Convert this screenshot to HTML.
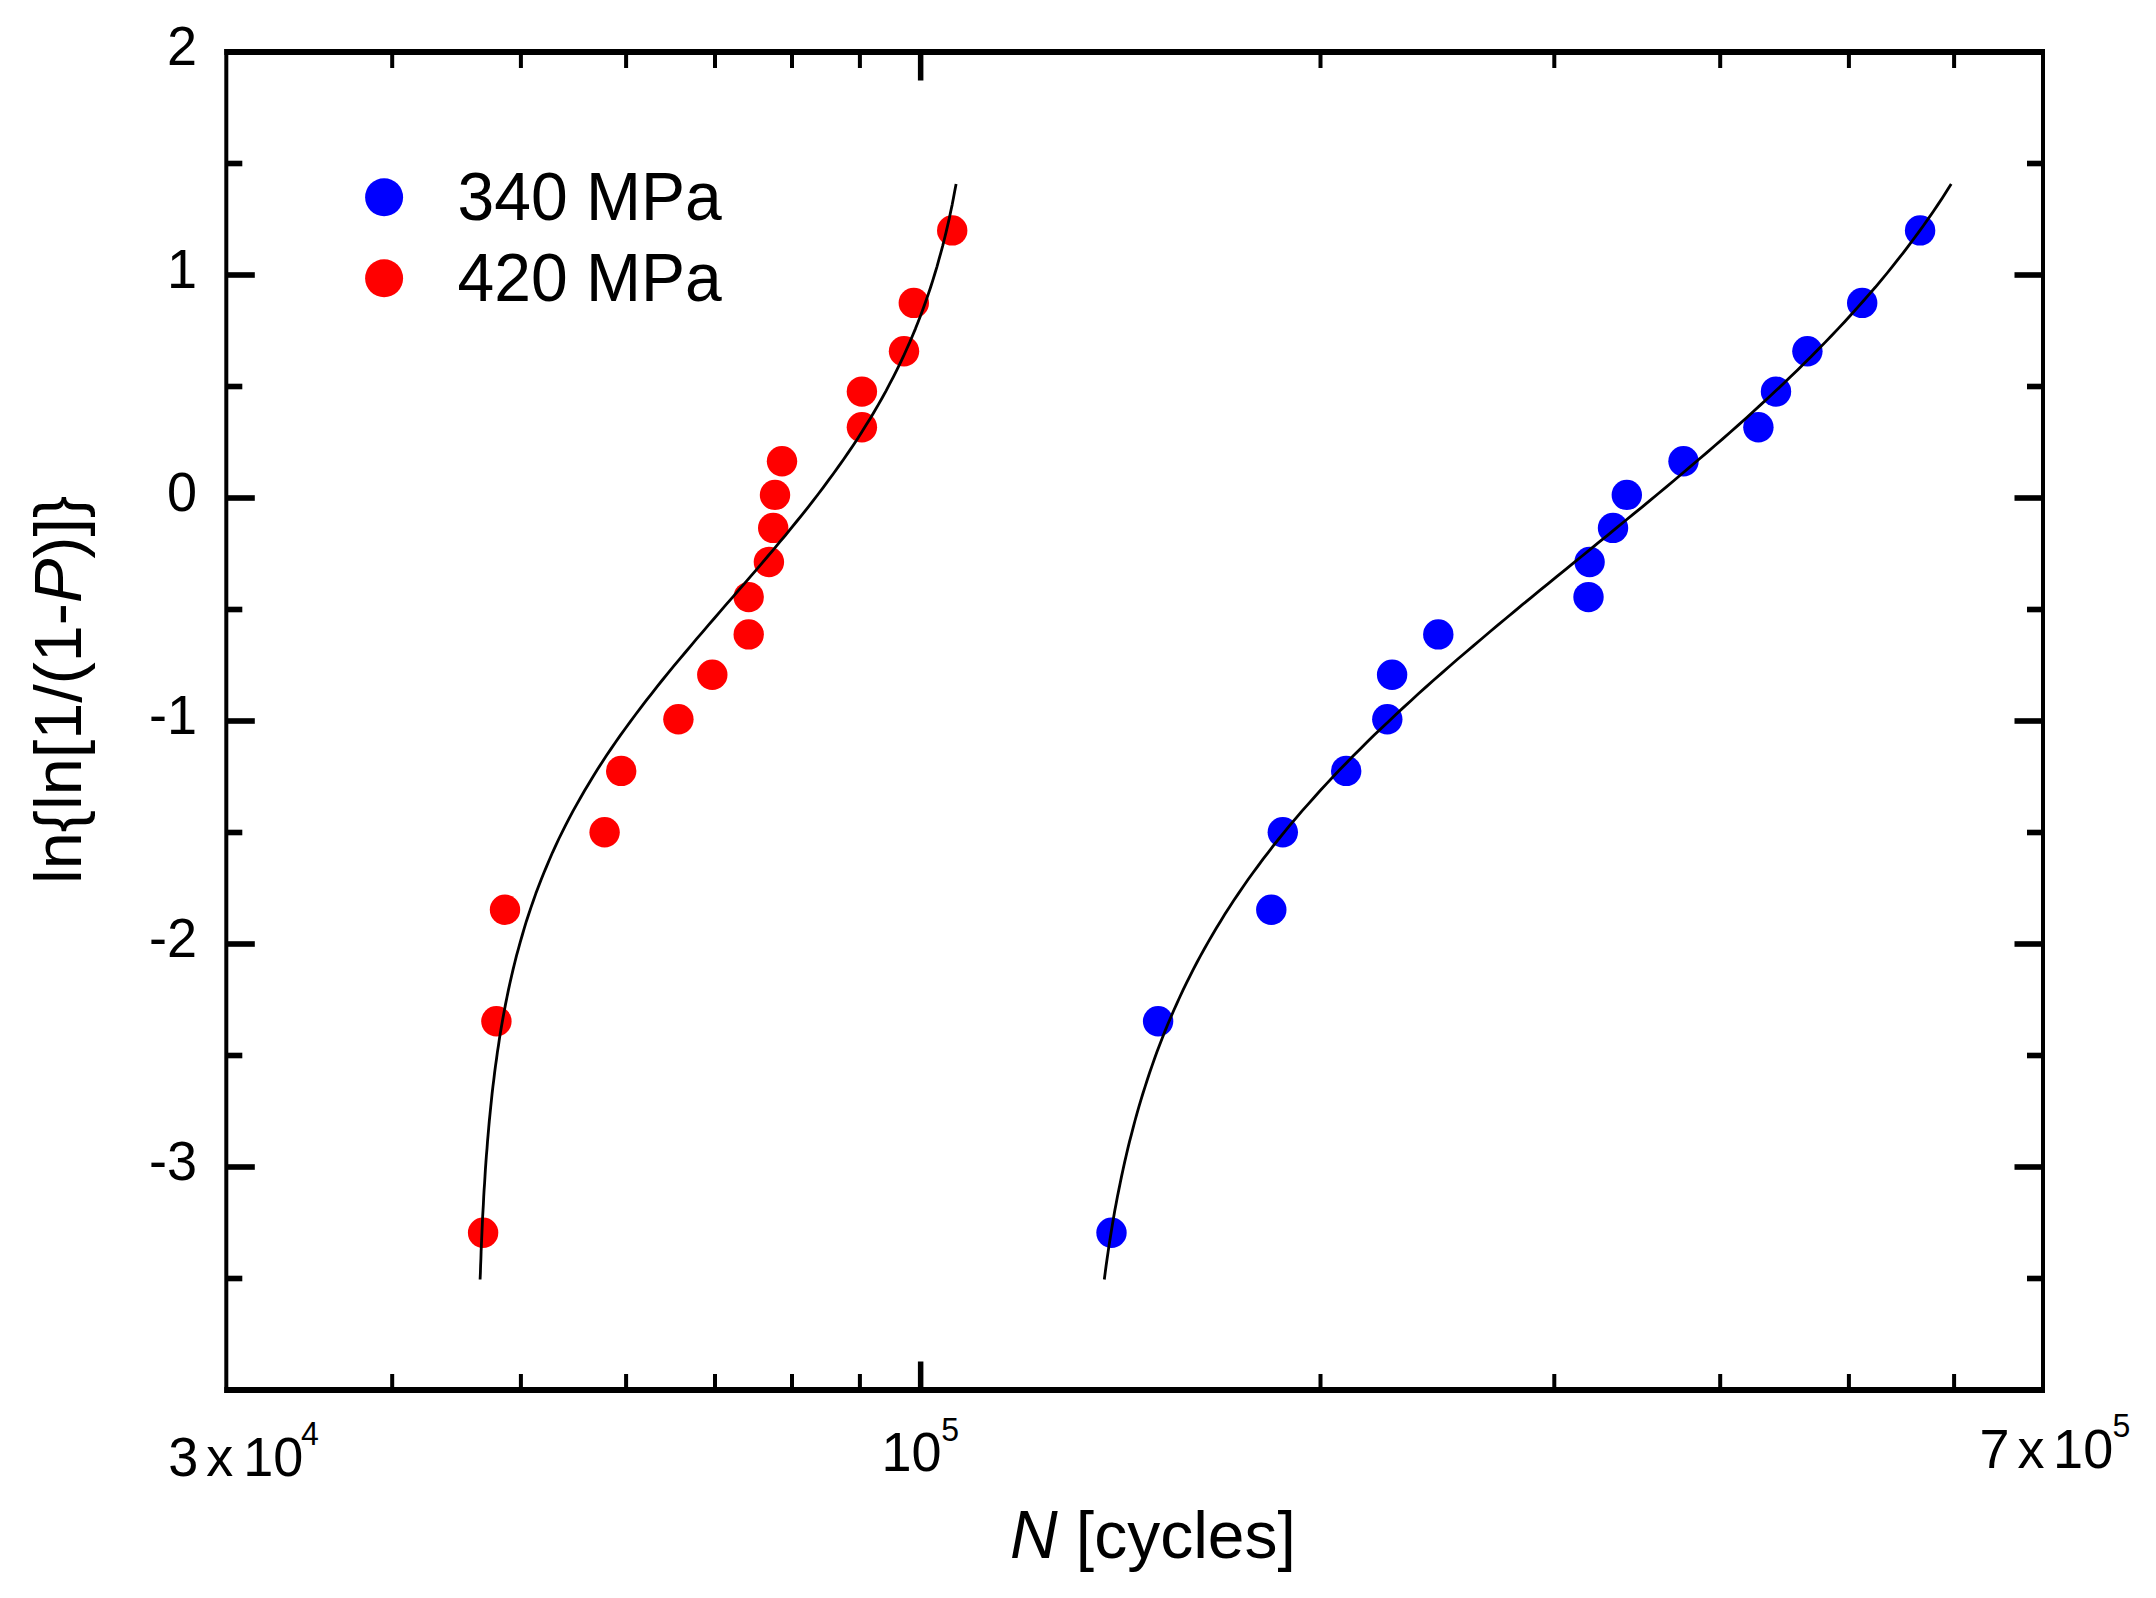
<!DOCTYPE html>
<html><head><meta charset="utf-8"><title>Weibull plot</title>
<style>html,body{margin:0;padding:0;background:#fff;}body{width:2156px;height:1598px;overflow:hidden;}</style>
</head><body>
<svg width="2156" height="1598" viewBox="0 0 2156 1598" style="display:block">
<rect x="0" y="0" width="2156" height="1598" fill="#fff"/>
<g fill="#ff0000"><circle cx="483.1" cy="1232.8" r="15.2"/><circle cx="496.4" cy="1021.3" r="15.2"/><circle cx="505.0" cy="909.7" r="15.2"/><circle cx="604.6" cy="832.3" r="15.2"/><circle cx="621.2" cy="770.9" r="15.2"/><circle cx="678.4" cy="719.2" r="15.2"/><circle cx="712.3" cy="674.7" r="15.2"/><circle cx="748.7" cy="634.4" r="15.2"/><circle cx="748.7" cy="597.1" r="15.2"/><circle cx="768.9" cy="562.0" r="15.2"/><circle cx="773.2" cy="527.9" r="15.2"/><circle cx="775.0" cy="494.9" r="15.2"/><circle cx="782.0" cy="461.3" r="15.2"/><circle cx="861.9" cy="427.3" r="15.2"/><circle cx="861.9" cy="391.6" r="15.2"/><circle cx="904.0" cy="351.3" r="15.2"/><circle cx="913.8" cy="302.9" r="15.2"/><circle cx="952.2" cy="230.4" r="15.2"/></g>
<g fill="#0000ff"><circle cx="1111.5" cy="1232.8" r="15.2"/><circle cx="1158.1" cy="1021.3" r="15.2"/><circle cx="1271.3" cy="909.7" r="15.2"/><circle cx="1282.8" cy="832.3" r="15.2"/><circle cx="1346.2" cy="770.9" r="15.2"/><circle cx="1387.3" cy="719.2" r="15.2"/><circle cx="1392.1" cy="674.7" r="15.2"/><circle cx="1438.3" cy="634.4" r="15.2"/><circle cx="1588.5" cy="597.1" r="15.2"/><circle cx="1589.6" cy="562.0" r="15.2"/><circle cx="1613.0" cy="527.9" r="15.2"/><circle cx="1626.8" cy="494.9" r="15.2"/><circle cx="1683.5" cy="461.3" r="15.2"/><circle cx="1758.4" cy="427.3" r="15.2"/><circle cx="1776.0" cy="391.6" r="15.2"/><circle cx="1807.4" cy="351.3" r="15.2"/><circle cx="1862.2" cy="302.9" r="15.2"/><circle cx="1920.1" cy="230.4" r="15.2"/></g>
<path d="M956.1,183.9 L954.8,190.8 L953.5,197.7 L952.2,204.6 L950.7,211.5 L949.3,218.4 L947.7,225.2 L946.1,232.1 L944.4,239.0 L942.7,245.9 L940.8,252.8 L938.9,259.7 L937.0,266.6 L934.9,273.5 L932.8,280.4 L930.6,287.3 L928.3,294.1 L925.9,301.0 L923.4,307.9 L920.9,314.8 L918.2,321.7 L915.5,328.6 L912.6,335.5 L909.7,342.4 L906.6,349.3 L903.5,356.2 L900.2,363.1 L896.9,369.9 L893.4,376.8 L889.8,383.7 L886.2,390.6 L882.4,397.5 L878.5,404.4 L874.5,411.3 L870.4,418.2 L866.1,425.1 L861.8,432.0 L857.4,438.9 L852.9,445.7 L848.2,452.6 L843.5,459.5 L838.6,466.4 L833.7,473.3 L828.6,480.2 L823.5,487.1 L818.3,494.0 L813.0,500.9 L807.6,507.8 L802.2,514.6 L796.6,521.5 L791.0,528.4 L785.4,535.3 L779.6,542.2 L773.9,549.1 L768.0,556.0 L762.2,562.9 L756.3,569.8 L750.4,576.7 L744.4,583.6 L738.5,590.4 L732.5,597.3 L726.5,604.2 L720.5,611.1 L714.6,618.0 L708.6,624.9 L702.7,631.8 L696.8,638.7 L691.0,645.6 L685.2,652.5 L679.4,659.3 L673.7,666.2 L668.0,673.1 L662.4,680.0 L656.9,686.9 L651.5,693.8 L646.1,700.7 L640.8,707.6 L635.6,714.5 L630.5,721.4 L625.5,728.3 L620.5,735.1 L615.7,742.0 L611.0,748.9 L606.3,755.8 L601.8,762.7 L597.4,769.6 L593.1,776.5 L588.9,783.4 L584.8,790.3 L580.8,797.2 L576.9,804.1 L573.1,810.9 L569.4,817.8 L565.9,824.7 L562.4,831.6 L559.0,838.5 L555.8,845.4 L552.6,852.3 L549.6,859.2 L546.7,866.1 L543.8,873.0 L541.1,879.8 L538.4,886.7 L535.8,893.6 L533.4,900.5 L531.0,907.4 L528.7,914.3 L526.4,921.2 L524.3,928.1 L522.3,935.0 L520.3,941.9 L518.4,948.8 L516.5,955.6 L514.8,962.5 L513.1,969.4 L511.5,976.3 L509.9,983.2 L508.4,990.1 L507.0,997.0 L505.6,1003.9 L504.3,1010.8 L503.0,1017.7 L501.8,1024.5 L500.6,1031.4 L499.5,1038.3 L498.5,1045.2 L497.4,1052.1 L496.5,1059.0 L495.5,1065.9 L494.6,1072.8 L493.8,1079.7 L492.9,1086.6 L492.1,1093.5 L491.4,1100.3 L490.7,1107.2 L490.0,1114.1 L489.3,1121.0 L488.7,1127.9 L488.1,1134.8 L487.5,1141.7 L487.0,1148.6 L486.4,1155.5 L485.9,1162.4 L485.4,1169.3 L485.0,1176.1 L484.6,1183.0 L484.1,1189.9 L483.7,1196.8 L483.4,1203.7 L483.0,1210.6 L482.6,1217.5 L482.3,1224.4 L482.0,1231.3 L481.7,1238.2 L481.4,1245.0 L481.1,1251.9 L480.9,1258.8 L480.6,1265.7 L480.4,1272.6 L480.1,1279.5" fill="none" stroke="#000" stroke-width="2.8" stroke-linecap="butt" stroke-linejoin="round"/>
<path d="M1951.2,183.9 L1946.9,190.8 L1942.5,197.7 L1937.9,204.6 L1933.3,211.5 L1928.5,218.4 L1923.7,225.2 L1918.7,232.1 L1913.6,239.0 L1908.5,245.9 L1903.2,252.8 L1897.8,259.7 L1892.3,266.6 L1886.8,273.5 L1881.1,280.4 L1875.3,287.3 L1869.3,294.1 L1863.3,301.0 L1857.2,307.9 L1851.0,314.8 L1844.7,321.7 L1838.2,328.6 L1831.7,335.5 L1825.1,342.4 L1818.3,349.3 L1811.5,356.2 L1804.6,363.1 L1797.6,369.9 L1790.5,376.8 L1783.3,383.7 L1776.0,390.6 L1768.6,397.5 L1761.1,404.4 L1753.6,411.3 L1746.0,418.2 L1738.3,425.1 L1730.5,432.0 L1722.7,438.9 L1714.7,445.7 L1706.8,452.6 L1698.7,459.5 L1690.6,466.4 L1682.5,473.3 L1674.3,480.2 L1666.1,487.1 L1657.8,494.0 L1649.5,500.9 L1641.1,507.8 L1632.7,514.6 L1624.3,521.5 L1615.9,528.4 L1607.5,535.3 L1599.0,542.2 L1590.5,549.1 L1582.1,556.0 L1573.6,562.9 L1565.1,569.8 L1556.7,576.7 L1548.2,583.6 L1539.8,590.4 L1531.4,597.3 L1523.0,604.2 L1514.7,611.1 L1506.4,618.0 L1498.1,624.9 L1489.9,631.8 L1481.7,638.7 L1473.6,645.6 L1465.5,652.5 L1457.5,659.3 L1449.5,666.2 L1441.7,673.1 L1433.8,680.0 L1426.1,686.9 L1418.4,693.8 L1410.9,700.7 L1403.3,707.6 L1395.9,714.5 L1388.6,721.4 L1381.4,728.3 L1374.2,735.1 L1367.1,742.0 L1360.2,748.9 L1353.3,755.8 L1346.6,762.7 L1339.9,769.6 L1333.3,776.5 L1326.9,783.4 L1320.5,790.3 L1314.3,797.2 L1308.2,804.1 L1302.1,810.9 L1296.2,817.8 L1290.4,824.7 L1284.7,831.6 L1279.1,838.5 L1273.6,845.4 L1268.3,852.3 L1263.0,859.2 L1257.9,866.1 L1252.8,873.0 L1247.9,879.8 L1243.1,886.7 L1238.4,893.6 L1233.7,900.5 L1229.2,907.4 L1224.8,914.3 L1220.6,921.2 L1216.4,928.1 L1212.3,935.0 L1208.3,941.9 L1204.4,948.8 L1200.6,955.6 L1196.9,962.5 L1193.3,969.4 L1189.8,976.3 L1186.4,983.2 L1183.0,990.1 L1179.8,997.0 L1176.7,1003.9 L1173.6,1010.8 L1170.6,1017.7 L1167.7,1024.5 L1164.9,1031.4 L1162.2,1038.3 L1159.5,1045.2 L1156.9,1052.1 L1154.4,1059.0 L1152.0,1065.9 L1149.6,1072.8 L1147.3,1079.7 L1145.1,1086.6 L1142.9,1093.5 L1140.8,1100.3 L1138.8,1107.2 L1136.8,1114.1 L1134.9,1121.0 L1133.1,1127.9 L1131.3,1134.8 L1129.5,1141.7 L1127.8,1148.6 L1126.2,1155.5 L1124.6,1162.4 L1123.1,1169.3 L1121.6,1176.1 L1120.2,1183.0 L1118.8,1189.9 L1117.4,1196.8 L1116.1,1203.7 L1114.8,1210.6 L1113.6,1217.5 L1112.4,1224.4 L1111.3,1231.3 L1110.2,1238.2 L1109.1,1245.0 L1108.1,1251.9 L1107.1,1258.8 L1106.1,1265.7 L1105.2,1272.6 L1104.3,1279.5" fill="none" stroke="#000" stroke-width="2.8" stroke-linecap="butt" stroke-linejoin="round"/>
<g fill="#000"><rect x="224.3" y="49.0" width="1820.7" height="6.0"/><rect x="224.3" y="1387.0" width="1820.7" height="6.0"/><rect x="224.3" y="49.0" width="4.0" height="1344.0"/><rect x="2041.0" y="49.0" width="4.0" height="1344.0"/><rect x="390.2" y="52.0" width="4.0" height="16"/><rect x="390.2" y="1374.0" width="4.0" height="16"/><rect x="518.9" y="52.0" width="4.0" height="16"/><rect x="518.9" y="1374.0" width="4.0" height="16"/><rect x="624.1" y="52.0" width="4.0" height="16"/><rect x="624.1" y="1374.0" width="4.0" height="16"/><rect x="713.0" y="52.0" width="4.0" height="16"/><rect x="713.0" y="1374.0" width="4.0" height="16"/><rect x="790.0" y="52.0" width="4.0" height="16"/><rect x="790.0" y="1374.0" width="4.0" height="16"/><rect x="857.9" y="52.0" width="4.0" height="16"/><rect x="857.9" y="1374.0" width="4.0" height="16"/><rect x="917.9" y="52.0" width="5.5" height="28.5"/><rect x="917.9" y="1361.5" width="5.5" height="28.5"/><rect x="1318.5" y="52.0" width="4.0" height="16"/><rect x="1318.5" y="1374.0" width="4.0" height="16"/><rect x="1552.3" y="52.0" width="4.0" height="16"/><rect x="1552.3" y="1374.0" width="4.0" height="16"/><rect x="1718.2" y="52.0" width="4.0" height="16"/><rect x="1718.2" y="1374.0" width="4.0" height="16"/><rect x="1846.9" y="52.0" width="4.0" height="16"/><rect x="1846.9" y="1374.0" width="4.0" height="16"/><rect x="1952.1" y="52.0" width="4.0" height="16"/><rect x="1952.1" y="1374.0" width="4.0" height="16"/><rect x="226.3" y="160.7" width="16" height="5.6"/><rect x="2027.0" y="160.7" width="16" height="5.6"/><rect x="226.3" y="272.2" width="28.5" height="5.6"/><rect x="2014.5" y="272.2" width="28.5" height="5.6"/><rect x="226.3" y="383.7" width="16" height="5.6"/><rect x="2027.0" y="383.7" width="16" height="5.6"/><rect x="226.3" y="495.2" width="28.5" height="5.6"/><rect x="2014.5" y="495.2" width="28.5" height="5.6"/><rect x="226.3" y="606.7" width="16" height="5.6"/><rect x="2027.0" y="606.7" width="16" height="5.6"/><rect x="226.3" y="718.2" width="28.5" height="5.6"/><rect x="2014.5" y="718.2" width="28.5" height="5.6"/><rect x="226.3" y="829.7" width="16" height="5.6"/><rect x="2027.0" y="829.7" width="16" height="5.6"/><rect x="226.3" y="941.2" width="28.5" height="5.6"/><rect x="2014.5" y="941.2" width="28.5" height="5.6"/><rect x="226.3" y="1052.7" width="16" height="5.6"/><rect x="2027.0" y="1052.7" width="16" height="5.6"/><rect x="226.3" y="1164.2" width="28.5" height="5.6"/><rect x="2014.5" y="1164.2" width="28.5" height="5.6"/><rect x="226.3" y="1275.7" width="16" height="5.6"/><rect x="2027.0" y="1275.7" width="16" height="5.6"/></g>
<g font-family="'Liberation Sans', Arial, sans-serif" fill="#000">
<text transform="translate(197.0,64.8) scale(1,1.04)" font-size="54" text-anchor="end">2</text>
<text transform="translate(197.0,287.8) scale(1,1.04)" font-size="54" text-anchor="end">1</text>
<text transform="translate(197.0,510.8) scale(1,1.04)" font-size="54" text-anchor="end">0</text>
<text transform="translate(197.0,733.8) scale(1,1.04)" font-size="54" text-anchor="end">-1</text>
<text transform="translate(197.0,956.8) scale(1,1.04)" font-size="54" text-anchor="end">-2</text>
<text transform="translate(197.0,1179.8) scale(1,1.04)" font-size="54" text-anchor="end">-3</text>
<text transform="translate(168.2,1475.6) scale(1,1.04)" font-size="54"><tspan x="0">3</tspan><tspan x="38">x</tspan><tspan x="75">10</tspan><tspan x="132.8" dy="-29.33" font-size="32">4</tspan></text>
<text transform="translate(881.5,1471.4) scale(1,1.04)" font-size="54"><tspan x="0">10</tspan><tspan x="59.8" dy="-29.33" font-size="32">5</tspan></text>
<text transform="translate(1979.6,1467.8) scale(1,1.04)" font-size="54"><tspan x="0">7</tspan><tspan x="38">x</tspan><tspan x="73.5">10</tspan><tspan x="132.8" dy="-29.33" font-size="32">5</tspan></text>
<text transform="translate(1010.0,1558.0) scale(1,1.04)" font-size="66" font-style="italic">N</text>
<text transform="translate(1075.8,1558.0) scale(1,1.0)" font-size="66">[cycles]</text>
<text transform="translate(81,884) rotate(-90)" font-size="66.5">ln{ln[1/(1-<tspan font-style="italic">P</tspan>)]}</text>
<text transform="translate(457.5,220.3) scale(1,1.04)" font-size="66">340 MPa</text>
<text transform="translate(457.5,300.6) scale(1,1.04)" font-size="66">420 MPa</text>
</g>
<circle cx="384.1" cy="197.3" r="19" fill="#0000ff"/><circle cx="384.1" cy="278.3" r="19" fill="#ff0000"/>
</svg>
</body></html>
